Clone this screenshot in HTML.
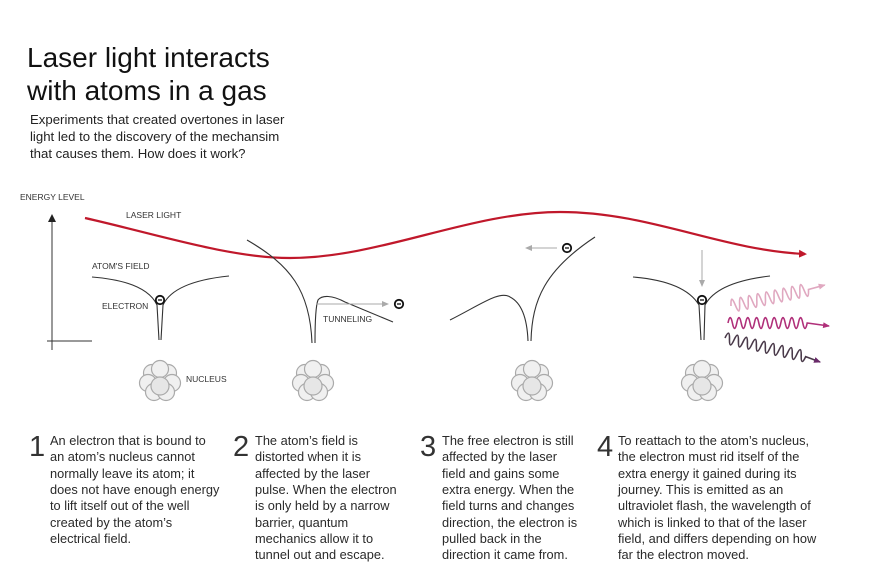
<!DOCTYPE html>
<html><head><meta charset="utf-8"><style>
body{margin:0;background:#fff;}
svg{display:block;font-family:"Liberation Sans",sans-serif;}
.t{font-size:12.8px;fill:#2a2a2a;}
.n{font-size:29px;fill:#333;font-weight:300;}
.s{font-size:8.5px;fill:#333;}
.f{fill:none;stroke:#333;stroke-width:1.1;}
.nuc circle{fill:#f0f0f0;stroke:#aaa;stroke-width:1.2;}
</style></head><body>
<svg width="869" height="579" viewBox="0 0 869 579">
<defs>
<marker id="ar" markerWidth="8" markerHeight="8" refX="6" refY="4" orient="auto" markerUnits="userSpaceOnUse"><path d="M0,0 L8,4 L0,8z" fill="#c0182b"/></marker>
<marker id="ag" markerWidth="8" markerHeight="8" refX="6" refY="4" orient="auto" markerUnits="userSpaceOnUse"><path d="M0,1 L7,4 L0,7z" fill="#aaa"/></marker>
<marker id="ak" markerWidth="8" markerHeight="8" refX="6" refY="4" orient="auto" markerUnits="userSpaceOnUse"><path d="M0,0 L8,4 L0,8z" fill="#222"/></marker>
<marker id="p1" markerWidth="8" markerHeight="8" refX="6" refY="4" orient="auto" markerUnits="userSpaceOnUse"><path d="M0,1 L7,4 L0,7z" fill="#e0a8c0"/></marker>
<marker id="p2" markerWidth="8" markerHeight="8" refX="6" refY="4" orient="auto" markerUnits="userSpaceOnUse"><path d="M0,1 L7,4 L0,7z" fill="#b0307a"/></marker>
<marker id="p3" markerWidth="8" markerHeight="8" refX="6" refY="4" orient="auto" markerUnits="userSpaceOnUse"><path d="M0,1 L7,4 L0,7z" fill="#6a2a6a"/></marker>
<g id="nu" class="nuc">
<circle cx="-8" cy="-8" r="8.5"/><circle cx="8" cy="-8" r="8.5"/><circle cx="0" cy="-12" r="8.5"/>
<circle cx="-12" cy="2" r="8.5"/><circle cx="12" cy="2" r="8.5"/><circle cx="-6" cy="11" r="8.5"/><circle cx="6" cy="11" r="8.5"/>
<circle cx="0" cy="5" r="9" style="fill:#e6e6e6"/>
</g>
<g id="el"><circle r="4.2" fill="#fff" stroke="#111" stroke-width="1.8"/><line x1="-2" y1="0" x2="2" y2="0" stroke="#111" stroke-width="1.3"/></g>
</defs>
<text x="27" y="67" style="font-size:28px;fill:#111">Laser light interacts</text>
<text x="27" y="100" style="font-size:28px;fill:#111">with atoms in a gas</text>
<text x="30" y="124" style="font-size:13.2px;fill:#222">Experiments that created overtones in laser</text>
<text x="30" y="141" style="font-size:13.2px;fill:#222">light led to the discovery of the mechansim</text>
<text x="30" y="158" style="font-size:13.2px;fill:#222">that causes them. How does it work?</text>

<text x="20" y="200" class="s">ENERGY LEVEL</text>
<line x1="52" y1="350" x2="52" y2="216" stroke="#333" stroke-width="1" marker-end="url(#ak)"/>
<line x1="47" y1="341" x2="92" y2="341" stroke="#333" stroke-width="1"/>

<path d="M85,218 C160,235 230,258 290,258 C380,258 470,212 560,212 C650,212 720,250 805,254" fill="none" stroke="#c0182b" stroke-width="2.2" marker-end="url(#ar)"/>
<text x="126" y="218" class="s">LASER LIGHT</text>

<text x="92" y="269" class="s">ATOM'S FIELD</text>
<text x="102" y="309" class="s">ELECTRON</text>
<path class="f" d="M92,277 C130,280 150,290 157,305 L159,340 M161,340 L163,305 C170,290 190,280 229,276"/>
<use href="#el" x="160" y="300"/>
<use href="#nu" x="160" y="381"/>
<text x="186" y="382" class="s">NUCLEUS</text>

<path class="f" d="M247,240 C290,265 310,290 312,343 M315,343 C315,320 316,305 318,300 C322,295 332,295 345,302 L393,322"/>
<line x1="316" y1="304" x2="388" y2="304" stroke="#aaa" stroke-width="1" marker-end="url(#ag)"/>
<use href="#el" x="399" y="304"/>
<text x="323" y="322" class="s">TUNNELING</text>
<use href="#nu" x="313" y="381"/>

<path class="f" d="M450,320 C480,305 500,290 510,297 C520,302 527,315 528,341 M531,341 C532,300 545,270 595,237"/>
<line x1="557" y1="248" x2="526" y2="248" stroke="#aaa" stroke-width="1" marker-end="url(#ag)"/>
<use href="#el" x="567" y="248"/>
<use href="#nu" x="532" y="381"/>

<path class="f" d="M633,277 C670,280 690,290 699,305 L701,340 M704,340 L705,305 C713,290 735,280 770,276"/>
<line x1="702" y1="250" x2="702" y2="286" stroke="#aaa" stroke-width="1" marker-end="url(#ag)"/>
<use href="#el" x="702" y="300"/>
<use href="#nu" x="702" y="381"/>

<g transform="translate(731,306) rotate(-12)">
<path d="M0,0 q2.2,-13 4.4,0 t4.4,0 t4.4,0 t4.4,0 t4.4,0 t4.4,0 t4.4,0 t4.4,0 t4.4,0 t4.4,0 t4.4,0 t4.4,0 t4.4,0 t4.4,0 t4.4,0 t4.4,0 t4.4,0 t4.4,0 L96,-1" fill="none" stroke="#e0a8c0" stroke-width="1.6" marker-end="url(#p1)"/></g>
<path d="M728,323 q2.2,-11 4.4,0 t4.4,0 t4.4,0 t4.4,0 t4.4,0 t4.4,0 t4.4,0 t4.4,0 t4.4,0 t4.4,0 t4.4,0 t4.4,0 t4.4,0 t4.4,0 t4.4,0 t4.4,0 t4.4,0 t4.4,0 L829,326" fill="none" stroke="#b0307a" stroke-width="1.6" marker-end="url(#p2)"/>
<g transform="translate(725,338) rotate(13)">
<path d="M0,0 q2.3,-11 4.6,0 t4.6,0 t4.6,0 t4.6,0 t4.6,0 t4.6,0 t4.6,0 t4.6,0 t4.6,0 t4.6,0 t4.6,0 t4.6,0 t4.6,0 t4.6,0 t4.6,0 t4.6,0 t4.6,0 t4.6,0 L98,2" fill="none" stroke="#4a3a4a" stroke-width="1.6" marker-end="url(#p3)"/></g>

<text x="29" y="456" class="n">1</text>
<g class="t"><text x="50" y="445">An electron that is bound to</text><text x="50" y="461">an atom’s nucleus cannot</text><text x="50" y="478">normally leave its atom; it</text><text x="50" y="494">does not have enough energy</text><text x="50" y="510">to lift itself out of the well</text><text x="50" y="527">created by the atom’s</text><text x="50" y="543">electrical field.</text></g>
<text x="233" y="456" class="n">2</text>
<g class="t"><text x="255" y="445">The atom’s field is</text><text x="255" y="461">distorted when it is</text><text x="255" y="478">affected by the laser</text><text x="255" y="494">pulse. When the electron</text><text x="255" y="510">is only held by a narrow</text><text x="255" y="527">barrier, quantum</text><text x="255" y="543">mechanics allow it to</text><text x="255" y="559">tunnel out and escape.</text></g>
<text x="420" y="456" class="n">3</text>
<g class="t"><text x="442" y="445">The free electron is still</text><text x="442" y="461">affected by the laser</text><text x="442" y="478">field and gains some</text><text x="442" y="494">extra energy. When the</text><text x="442" y="510">field turns and changes</text><text x="442" y="527">direction, the electron is</text><text x="442" y="543">pulled back in the</text><text x="442" y="559">direction it came from.</text></g>
<text x="597" y="456" class="n">4</text>
<g class="t"><text x="618" y="445">To reattach to the atom’s nucleus,</text><text x="618" y="461">the electron must rid itself of the</text><text x="618" y="478">extra energy it gained during its</text><text x="618" y="494">journey. This is emitted as an</text><text x="618" y="510">ultraviolet flash, the wavelength of</text><text x="618" y="527">which is linked to that of the laser</text><text x="618" y="543">field, and differs depending on how</text><text x="618" y="559">far the electron moved.</text></g>
</svg>
</body></html>
